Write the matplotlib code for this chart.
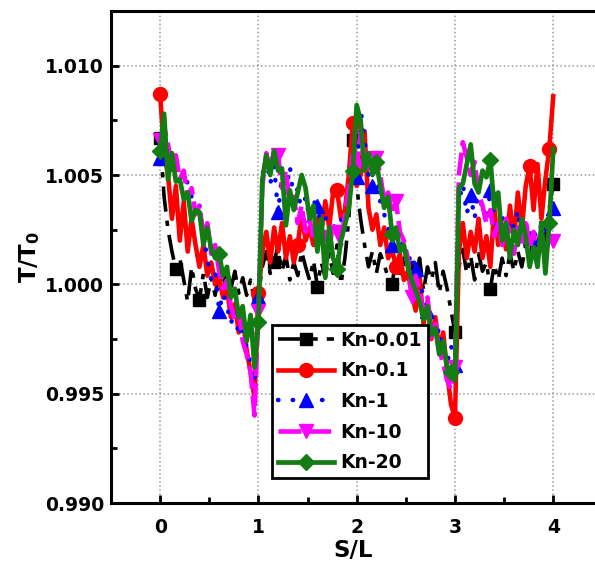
import matplotlib
matplotlib.use("Agg")
import matplotlib.pyplot as plt
import numpy as np

plt.rcParams['font.family'] = ['DejaVu Sans']
plt.rcParams['font.weight'] = 'bold'
plt.rcParams['mathtext.default'] = 'bf'

# S/L stations, 0 .. 4 in steps of 0.04
s = np.arange(101) * 0.04

# temperature deviation, (T/T0 - 1) in units of 1e-3
kn001 = [6.7, 4.0, 2.5, 1.5, 0.7, 1.2, 0.2, -0.8, 0.8, -0.2, -0.7, 0.5, -0.6, 0.3, -0.5, 0.6, -0.3, 0.8, -0.2, 0.6, -0.4, 0.3, -0.5, 0.2, -0.8, -0.5,
         0.8, 1.5, 0.5, 1.0, 1.8, 0.6, 1.3, 0.2, 1.0, 0.4, 1.5, 0.8, 0.2, 1.1, -0.1, 1.0, 0.3, 1.4, 0.5, 1.8, 0.0, 1.2, 3.0, 6.6, 4.5,
         3.0, 1.8, 0.8, 1.5, 0.5, 1.4, 0.9, 0.3, 0.0, 1.2, 0.4, 1.2, 0.0, 1.0, 0.2, 1.2, -0.3, 0.8, 0.2, 1.0, -0.4, 0.6, -0.2, -1.2, -2.2,
         0.8, 1.6, 0.5, 1.3, 0.2, 1.4, 0.6, 1.0, -0.2, 0.9, 0.2, 1.2, 0.4, 1.4, 0.6, 1.5, 0.8, 1.8, 1.0, 2.4, 1.5, 3.0, 2.0, 3.5, 4.6]
kn01 = [8.7, 6.0, 5.0, 3.0, 4.5, 2.0, 3.8, 1.5, 3.0, 1.8, 0.8, 1.8, 0.4, 1.0, 0.0, 0.3, -0.6, -0.2, -1.5, -0.9, -2.2, -1.5, -3.0, -4.0, -5.2, -0.4,
        1.5, 2.4, 1.0, 2.6, 1.5, 2.8, 1.2, 2.2, 1.0, 1.8, 3.2, 2.0, 2.6, 1.8, 3.0, 2.4, 3.8, 2.6, 4.2, 4.3, 3.0, 3.4, 5.0, 7.4, 4.5,
        5.0, 7.0, 3.5, 2.5, 3.2, 1.8, 2.6, 1.2, 1.6, 0.8, 1.4, 0.2, 0.6, -0.4, -1.2, 0.4, -1.8, -0.8, -2.5, -1.5, -3.0, -2.2, -4.0, -5.5, -6.1,
        1.5, 2.8, 1.2, 2.4, 1.5, 3.0, 1.2, 2.2, 0.8, 3.5, 1.8, 2.6, 1.6, 3.6, 2.0, 4.2, 2.5, 4.5, 5.4, 3.4, 5.5, 3.0, 4.8, 6.2, 8.6]
kn1 = [5.8, 6.5, 5.5, 5.0, 5.4, 4.6, 5.2, 4.6, 4.0, 3.6, 3.6, 2.2, 1.2, 0.2, 0.6, -1.2, -0.4, -1.0, -1.8, -1.2, -2.4, -1.8, -3.0, -3.6, -4.5, -0.6,
       5.0, 5.8, 4.6, 5.4, 3.3, 5.0, 4.2, 5.4, 3.8, 4.4, 3.2, 4.0, 3.0, 3.8, 3.6, 2.6, 3.2, 2.0, 2.8, 2.2, 3.0, 2.4, 4.2, 6.0, 4.9,
       8.0, 6.6, 5.0, 4.5, 5.2, 3.8, 3.2, 2.6, 1.8, 2.4, 1.5, 2.0, 1.0, 1.4, 0.7, 0.2, -0.6, -1.2, -1.8, -2.5, -2.0, -3.2, -3.6, -2.8, -3.7,
       3.8, 4.6, 3.2, 4.1, 3.0, 4.4, 3.4, 2.8, 4.3, 3.0, 2.4, 3.2, 2.2, 3.0, 2.6, 3.4, 2.0, 2.8, 2.1, 2.6, 1.8, 2.8, 2.4, 3.0, 3.5]
kn10 = [6.6, 7.2, 6.4, 5.4, 5.9, 4.8, 5.2, 4.0, 4.4, 3.2, 3.6, 2.2, 2.8, 1.4, 1.8, 0.6, -0.2, 0.2, -1.0, -1.6, -1.2, -2.6, -3.2, -4.0, -6.0, -1.2,
        4.5, 6.0, 5.2, 6.2, 5.9, 4.4, 5.2, 3.6, 4.0, 2.8, 3.6, 2.4, 3.0, 2.0, 2.6, 1.8, 2.4, 1.6, 2.8, 2.4, 1.8, 3.2, 4.4, 6.0, 5.4,
        7.0, 6.0, 5.2, 5.6, 5.8, 5.0, 3.8, 4.2, 3.2, 3.8, 2.4, 2.0, 1.2, -0.6, 0.4, -0.4, -1.2, -0.6, -2.2, -1.8, -3.0, -3.6, -4.4, -4.8, -3.8,
        5.0, 6.5, 5.8, 5.0, 5.6, 4.2, 3.6, 2.8, 3.4, 2.2, 2.8, 1.8, 3.0, 2.2, 1.4, 2.6, 1.8, 3.0, 1.6, 2.4, 1.2, 2.0, 1.4, 2.2, 2.0]
kn20 = [6.1, 7.8, 4.8, 6.0, 4.7, 4.8, 3.9, 4.2, 2.9, 3.4, 3.3, 1.8, 2.6, 1.6, 1.2, 1.4, 0.4, 0.8, -0.6, -0.2, -1.5, -1.0, -2.6, -1.4, -3.8, -1.7,
        4.8, 5.9, 5.0, 6.1, 5.2, 5.3, 2.7, 4.3, 3.4, 4.2, 5.0, 4.4, 3.0, 3.6, 1.5, 3.0, 0.3, 2.6, 1.2, 0.7, 2.0, 2.7, 3.5, 5.2, 8.2,
        7.5, 5.2, 6.0, 5.0, 5.6, 4.5, 3.5, 4.0, 2.3, 2.6, 1.5, 1.8, 0.8, 0.2, -0.3, -0.8, -1.6, -1.0, -2.3, -2.0, -3.2, -2.6, -3.8, -4.0, -4.4,
        4.4, 4.6, 5.5, 6.4, 4.6, 4.2, 5.2, 4.9, 5.7, 3.5, 4.2, 2.0, 2.8, 1.2, 2.5, 1.8, 3.0, 2.2, 0.8, 1.7, 0.8, 2.8, 0.5, 2.8, 6.2]

labels = ['Kn-0.01', 'Kn-0.1', 'Kn-1', 'Kn-10', 'Kn-20']

# stations that carry a symbol
mk001 = [0, 4, 10, 29, 40, 49, 59, 75, 84, 100]
mk01 = [0, 25, 35, 45, 49, 60, 75, 94, 99]
mk1 = [0, 15, 25, 30, 40, 50, 54, 59, 65, 68, 75, 79, 84, 94, 100]
mk10 = [0, 25, 30, 45, 50, 55, 60, 64, 69, 75, 100]
mk20 = [0, 15, 25, 45, 49, 55, 59, 74, 84, 99]

fig = plt.figure(figsize=(5.95, 5.68), dpi=100)
ax = fig.add_axes([0.1866, 0.1144, 0.8134, 0.8662])

def T(d):
    return 1 + np.array(d) * 1e-3

ax.plot(s, T(kn001), color='black', lw=2.6, dashes=(7, 2.5, 1.5, 2.5),
        marker='s', ms=8.5, markevery=mk001, label=labels[0])
ax.plot(s, T(kn01), color='#ff0000', lw=3.3, ls='-',
        marker='o', ms=10, markevery=mk01, label=labels[1])
ax.plot(s, T(kn1), color='#0000ff', lw=3.2, ls=(0, (0.1, 3.2)), dash_capstyle='round',
        marker='^', ms=10, markevery=mk1, label=labels[2])
ax.plot(s, T(kn10), color='#ff00ff', lw=3.3, dashes=(5, 1.5),
        marker='v', ms=10, markevery=mk10, label=labels[3])
ax.plot(s, T(kn20), color='#137d13', lw=3.4, ls='-',
        marker='D', ms=8.5, markevery=mk20, label=labels[4])

ax.set_xlim(-0.5, 4.425)
ax.set_ylim(0.990, 1.0125)
ax.set_xticks([0, 1, 2, 3, 4])
ax.set_xticks([0.5, 1.5, 2.5, 3.5], minor=True)
ax.set_yticks([0.990, 0.995, 1.000, 1.005, 1.010])
ax.set_yticks([0.9925, 0.9975, 1.0025, 1.0075], minor=True)
ax.set_yticklabels(['0.990', '0.995', '1.000', '1.005', '1.010'])
ax.grid(True, which='major', ls=':', color='#999999', lw=1.1)

ax.tick_params(which='both', direction='in', width=2, labelsize=13.5)
ax.tick_params(which='major', length=6)
ax.tick_params(which='minor', length=4)
ax.tick_params(axis='x', pad=11)
ax.tick_params(axis='y', pad=5)
for side in ['left', 'bottom', 'top']:
    ax.spines[side].set_linewidth(2.2)
ax.spines['right'].set_visible(False)

ax.set_xlabel('S/L', fontsize=16.5, fontweight='bold', labelpad=1)
ax.set_ylabel('T/T$_0$', fontsize=16.5, fontweight='bold', labelpad=2)

leg = ax.legend(loc='lower left', bbox_to_anchor=(0.333, 0.051), borderaxespad=0,
                fontsize=13.5, handlelength=3.0, handletextpad=0.35, labelspacing=0.62,
                borderpad=0.3, numpoints=1, fancybox=False, framealpha=1)
leg.get_frame().set_edgecolor('black')
leg.get_frame().set_linewidth(2)
for t in leg.get_texts():
    t.set_fontweight('bold')

fig.savefig('out.png', dpi=100)
